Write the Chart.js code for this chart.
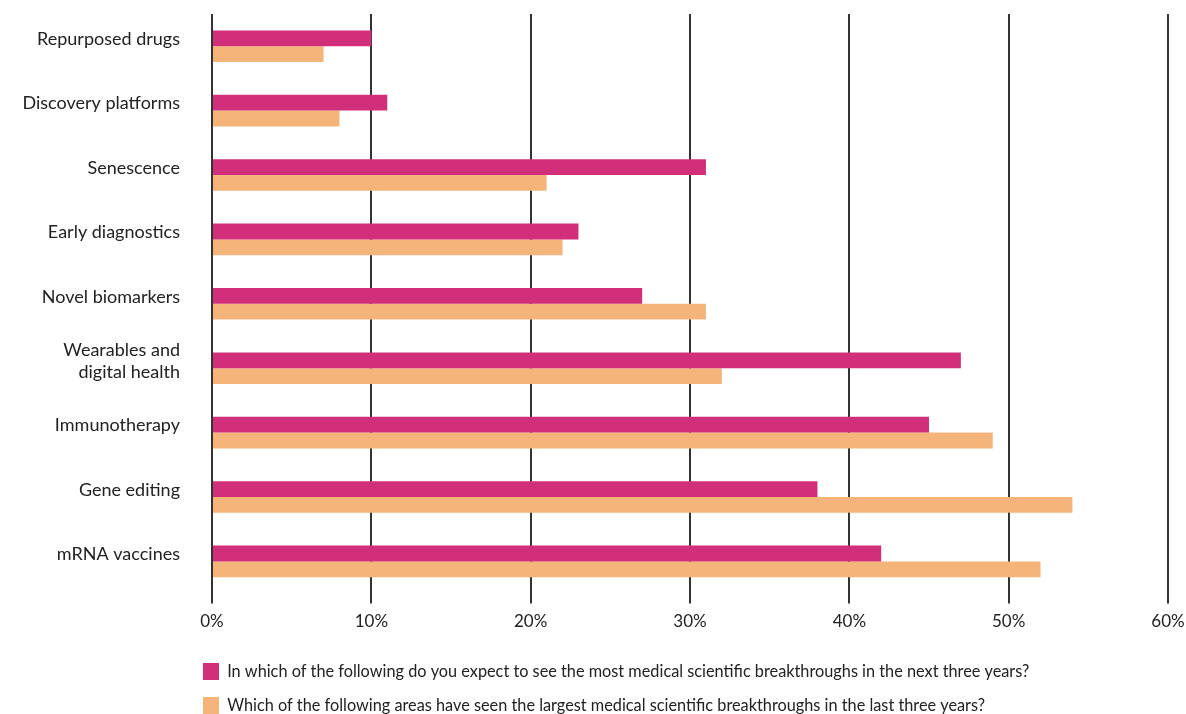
<!DOCTYPE html>
<html>
<head>
<meta charset="utf-8">
<script src="https://cdn.jsdelivr.net/npm/chart.js@4.4.1/dist/chart.umd.min.js"></script>
<style>
  html, body { margin: 0; padding: 0; background: #fff; overflow: hidden; }
  #wrap { width: 1186px; height: 724px; }
</style>
</head>
<body>
<div id="wrap"><canvas id="breakthroughChart"></canvas></div>
<script>
const areas = [
  'Repurposed drugs',
  'Discovery platforms',
  'Senescence',
  'Early diagnostics',
  'Novel biomarkers',
  ['Wearables and', 'digital health'],
  'Immunotherapy',
  'Gene editing',
  'mRNA vaccines',
];
const nextThreeYears = [10, 11, 31, 23, 27, 47, 45, 38, 42];
const lastThreeYears = [7, 8, 21, 22, 31, 32, 49, 54, 52];
const percentTicks = [0, 10, 20, 30, 40, 50, 60];

const fontFamily = 'Lato, "Noto Sans", sans-serif';
const axisWidth = 212;

// legend sits under the plot, lined up a little left of the 0% line
const legendOffset = {
  id: 'legendOffset',
  afterLayout: (chart) => {
    chart.legend.left = 186;
  },
};

new Chart(document.getElementById('breakthroughChart'), {
  type: 'bar',
  data: {
    labels: areas,
    datasets: [
      {
        label: 'In which of the following do you expect to see the most medical scientific breakthroughs in the next three years?',
        data: nextThreeYears,
        backgroundColor: '#D12F7A',
      },
      {
        label: 'Which of the following areas have seen the largest medical scientific breakthroughs in the last three years?',
        data: lastThreeYears,
        backgroundColor: '#F5B47A',
      },
    ],
  },
  plugins: [legendOffset],
  options: {
    indexAxis: 'y',
    responsive: true,
    maintainAspectRatio: false,
    animation: false,
    layout: { padding: { top: 14, right: 0, left: 0, bottom: 0 } },
    datasets: {
      bar: { barPercentage: 1, categoryPercentage: 0.49 },
    },
    plugins: {
      tooltip: { enabled: false },
      legend: {
        position: 'bottom',
        align: 'start',
        labels: {
          boxWidth: 16,
          boxHeight: 17,
          padding: 17,
          color: '#222',
          font: { family: fontFamily, size: 16.3 },
        },
      },
    },
    scales: {
      x: {
        min: 0,
        max: 60,
        afterBuildTicks: (scale) => {
          scale.ticks = percentTicks.map((v) => ({ value: v }));
        },
        afterFit: (scale) => {
          scale.height += 6;
          scale.paddingLeft = 0;
          scale.paddingRight = 18;
        },
        border: { display: false },
        grid: {
          color: '#333',
          lineWidth: 2,
          tickLength: 10,
        },
        ticks: {
          padding: 8,
          color: '#222',
          font: { family: fontFamily, size: 17 },
          callback: (value) => value + '%',
        },
      },
      y: {
        afterFit: (scale) => {
          scale.width = axisWidth;
          scale.paddingTop = 0;
          scale.paddingBottom = 0;
        },
        border: { display: false },
        grid: { display: false, drawTicks: false },
        ticks: {
          padding: 32,
          labelOffset: -7,
          color: '#222',
          font: { family: fontFamily, size: 18 },
        },
      },
    },
  },
});
</script>
</body>
</html>
